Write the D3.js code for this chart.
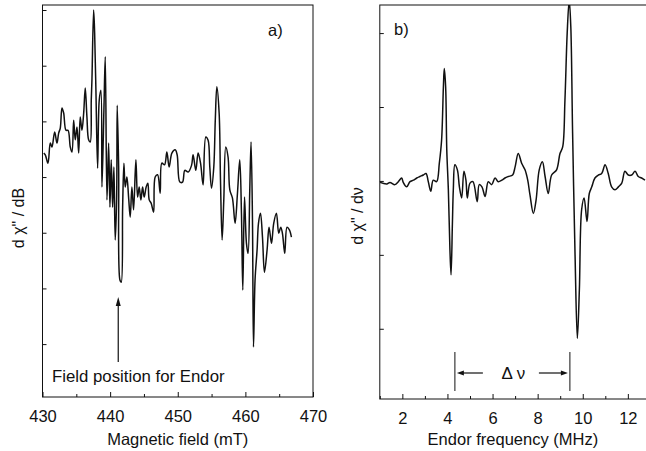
<!DOCTYPE html>
<html><head><meta charset="utf-8">
<script src="https://cdn.jsdelivr.net/npm/d3@7"></script>
<style>body{margin:0;background:#fff}svg{display:block}text{font-family:"Liberation Sans",Arial,sans-serif;fill:#111}</style>
</head><body><svg id="c" width="646" height="451"></svg>
<script>
// ---- Panel a) : EPR spectrum ----
const fieldMT = [430.18,430.41,430.81,431.15,431.40,431.80,432.14,432.39,432.63,432.88,433.13,433.47,433.77,434.11,434.36,434.61,434.84,435.10,435.35,435.58,435.83,436.09,436.32,436.57,436.82,437.06,437.21,437.31,437.56,437.71,437.90,438.15,438.39,438.64,438.79,439.08,439.28,439.53,439.78,439.97,440.16,440.37,440.56,440.75,440.96,441.05,441.26,441.45,441.64,441.85,442.04,442.23,442.48,442.73,442.97,443.22,443.47,443.81,444.06,444.30,444.55,444.80,445.04,445.33,445.58,445.78,446.07,446.43,446.66,447.02,447.40,447.65,448.05,448.39,448.73,449.13,449.62,449.91,450.31,450.71,451.05,451.54,452.04,452.27,452.67,453.01,453.37,453.75,454.15,454.49,454.74,454.99,455.33,455.55,455.78,456.12,456.32,456.56,456.81,457.10,457.44,457.70,458.09,458.48,458.83,459.17,459.42,459.62,459.87,460.16,460.40,460.65,460.84,461.05,461.20,461.43,461.73,461.94,462.23,462.53,462.82,463.21,463.50,463.86,464.19,464.59,464.93,465.23,465.48,465.82,466.16,466.51,466.81];
const eprSignal = [4.43,4.40,4.25,4.61,4.54,4.81,4.61,4.79,4.88,5.24,5.15,4.84,4.84,4.54,4.45,5.02,4.67,4.90,4.43,5.08,4.84,5.15,5.60,5.08,4.67,4.63,5.38,5.74,7.00,6.59,5.56,4.16,5.38,5.56,3.82,5.20,6.16,3.59,4.61,3.46,4.31,3.46,4.18,2.87,3.59,5.29,4.18,2.15,2.11,3.46,4.25,3.82,4.00,3.64,3.28,3.82,3.41,4.31,3.64,3.82,3.59,3.82,3.64,3.82,3.89,3.59,3.53,3.37,4.00,4.04,3.71,4.25,4.22,4.45,4.18,4.43,4.49,4.40,3.91,3.91,4.12,4.09,4.21,4.40,4.12,4.43,4.25,3.86,4.72,4.66,4.18,3.80,4.18,5.02,5.62,5.15,3.95,2.87,3.59,4.54,4.36,3.77,3.62,3.17,3.71,4.31,3.35,1.97,3.64,2.81,2.63,3.77,4.63,3.23,0.95,2.15,2.69,3.17,3.35,2.92,2.29,2.69,3.10,2.81,3.17,3.35,2.99,3.10,2.99,2.63,3.10,3.05,2.92];
const fieldTicks = [430,440,450,460,470];
const fieldMinor = [435,445,455,465];
const eprYTicks = [1,2,3,4,5,6,7];

// ---- Panel b) : ENDOR spectrum ----
const freqMHz = [1.01,1.31,1.45,1.67,1.82,1.97,2.04,2.19,2.34,2.49,2.64,2.78,2.93,3.05,3.15,3.26,3.37,3.52,3.64,3.74,3.82,3.86,3.92,3.97,4.04,4.11,4.16,4.22,4.26,4.33,4.44,4.53,4.63,4.73,4.82,4.88,5.00,5.13,5.32,5.41,5.53,5.67,5.81,5.96,6.11,6.25,6.41,6.55,6.70,6.89,7.00,7.14,7.29,7.44,7.56,7.66,7.81,7.93,8.07,8.21,8.33,8.47,8.62,8.84,8.99,9.11,9.21,9.31,9.40,9.47,9.55,9.66,9.76,9.85,9.95,10.06,10.19,10.29,10.40,10.54,10.69,10.84,10.99,11.13,11.28,11.43,11.58,11.73,11.87,12.02,12.17,12.32,12.46,12.61,12.76];
const endorSignal = [-0.02,-0.04,-0.02,-0.05,-0.01,0.04,-0.02,-0.08,-0.01,0.01,0.04,0.06,0.08,0.10,-0.01,-0.14,0.01,-0.01,0.24,0.55,1.27,1.52,1.27,0.42,-0.12,-0.93,-1.27,-0.57,-0.12,0.22,0.15,-0.08,-0.23,0.13,0.01,-0.23,-0.03,-0.01,-0.28,-0.05,-0.08,-0.21,-0.01,-0.05,0.04,-0.01,0.01,0.04,0.06,0.08,0.19,0.37,0.24,0.15,0.01,-0.19,-0.44,-0.26,0.15,0.26,0.06,-0.17,0.08,0.15,0.37,0.46,1.09,2.00,2.45,2.09,0.65,-1.02,-2.13,-1.47,-0.39,-0.23,-0.55,-0.17,-0.08,0.04,0.08,0.10,0.22,0.10,-0.08,-0.12,-0.08,-0.03,0.13,0.08,0.08,0.13,0.06,0.04,0.01];
const freqTicks = [2,4,6,8,10,12];
const freqMinor = [1,3,5,7,9,11];
const endorYTicks = [-2,-1,0,1,2];
const endorPos = 441.2;      // field position for ENDOR (mT)
const deltaNu = [4.33, 9.43]; // MHz

const svg = d3.select("#c");
const ink = "#111";

function panel(o) {
  const g = svg.append("g");
  const x = d3.scaleLinear().domain(o.xd).range(o.xr);
  const y = d3.scaleLinear().domain(o.yd).range(o.yr);
  const id = "clip" + o.name;
  svg.append("clipPath").attr("id", id).append("rect")
    .attr("x", o.xr[0]).attr("y", o.yr[1]).attr("width", o.xr[1]-o.xr[0]).attr("height", o.yr[0]-o.yr[1]);
  g.append("path").datum(o.xs.map((v,i)=>[v,o.ys[i]]))
    .attr("clip-path", `url(#${id})`)
    .attr("fill","none").attr("stroke",ink).attr("stroke-width",1.5).attr("stroke-linejoin","round")
    .attr("d", d3.line().curve(d3.curveCatmullRom.alpha(0.5)).x(d=>x(d[0])).y(d=>y(d[1])));
  const bx = g.append("g").attr("transform",`translate(0,${o.yr[0]})`)
    .call(d3.axisBottom(x).tickValues(o.xt).tickSizeInner(-5).tickSizeOuter(0).tickPadding(10).tickFormat(d3.format("d")));
  bx.select(".domain").remove();
  bx.selectAll("line").attr("stroke",ink);
  bx.selectAll("text").attr("font-size",16.5).attr("fill",ink).attr("dy","0.9em");
  const bm = g.append("g").attr("transform",`translate(0,${o.yr[0]})`)
    .call(d3.axisBottom(x).tickValues(o.xm).tickSizeInner(-3).tickSizeOuter(0).tickFormat(""));
  bm.select(".domain").remove();
  bm.selectAll("line").attr("stroke",ink);
  const ly = g.append("g").attr("transform",`translate(${o.xr[0]},0)`)
    .call(d3.axisLeft(y).tickValues(o.yt).tickSizeInner(-4).tickSizeOuter(0).tickFormat(""));
  ly.select(".domain").remove();
  ly.selectAll("line").attr("stroke",ink);
  g.append("rect").attr("x",o.xr[0]).attr("y",o.yr[1]).attr("width",o.xr[1]-o.xr[0]).attr("height",o.yr[0]-o.yr[1])
    .attr("fill","none").attr("stroke",ink).attr("stroke-width",1);
  g.append("text").attr("x",(o.xr[0]+Math.min(o.xr[1],646))/2 + (o.tdx||0)).attr("y",445)
    .attr("text-anchor","middle").attr("font-size",16.5).text(o.xlabel);
  g.append("text").attr("transform",`translate(${o.ylx},${o.yly}) rotate(-90)`)
    .attr("text-anchor","middle").attr("font-size",16).text(o.ylabel);
  return {x,y,g};
}

const A = panel({name:"a", xd:[430,470], xr:[42.5,313], yd:[0.05,7.09], yr:[397,5],
  xs:fieldMT, ys:eprSignal, xt:fieldTicks, xm:fieldMinor, yt:eprYTicks,
  xlabel:"Magnetic field (mT)", ylabel:"d \u03C7\" / dB", ylx:24, yly:218});
const B = panel({name:"b", xd:[1,13], xr:[379.8,650.4], yd:[-2.95,2.38], yr:[399,5],
  xs:freqMHz, ys:endorSignal, xt:freqTicks, xm:freqMinor, yt:endorYTicks,
  xlabel:"Endor frequency (MHz)", ylabel:"d \u03C7\" / d\u03BD", ylx:363, yly:216, tdx:0});

svg.append("text").attr("x",268).attr("y",36).attr("font-size",16.5).text("a)");
svg.append("text").attr("x",394).attr("y",35).attr("font-size",16.5).text("b)");

const ax = A.x(endorPos);
svg.append("line").attr("x1",ax).attr("x2",ax).attr("y1",362).attr("y2",304).attr("stroke",ink).attr("stroke-width",1.2);
svg.append("path").attr("d",`M${ax},297 L${ax-2.5},306 L${ax+2.5},306 Z`).attr("fill",ink);
svg.append("text").attr("x",52).attr("y",382).attr("font-size",16.8).text("Field position for Endor");

const x1 = B.x(deltaNu[0]), x2 = B.x(deltaNu[1]);
[x1,x2].forEach(xx => svg.append("line").attr("x1",xx).attr("x2",xx).attr("y1",352).attr("y2",391).attr("stroke",ink).attr("stroke-width",1));
const ay = 373;
svg.append("line").attr("x1",x1+6).attr("x2",x1+28).attr("y1",ay).attr("y2",ay).attr("stroke",ink).attr("stroke-width",1.2);
svg.append("path").attr("d",`M${x1+2},${ay} L${x1+9},${ay-2.5} L${x1+9},${ay+2.5} Z`).attr("fill",ink);
svg.append("line").attr("x1",x2-31).attr("x2",x2-6).attr("y1",ay).attr("y2",ay).attr("stroke",ink).attr("stroke-width",1.2);
svg.append("path").attr("d",`M${x2-2},${ay} L${x2-9},${ay-2.5} L${x2-9},${ay+2.5} Z`).attr("fill",ink);
svg.append("text").attr("x",(x1+x2)/2+1).attr("y",379).attr("text-anchor","middle")
  .attr("font-family","'Liberation Serif','Times New Roman',serif").attr("font-size",17).text("\u0394 \u03BD");
</script></body></html>
